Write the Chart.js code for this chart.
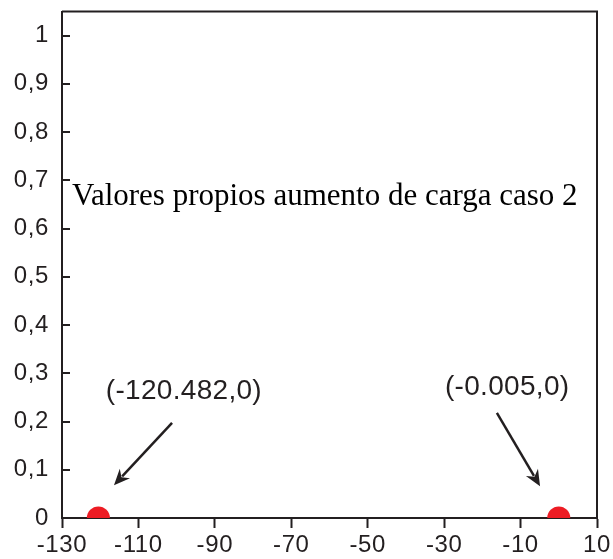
<!DOCTYPE html>
<html>
<head>
<meta charset="utf-8">
<script src="https://cdn.jsdelivr.net/npm/chart.js@4/dist/chart.umd.min.js"></script>
<style>
  body { margin: 0; background: #fff; }
  #wrap { width: 613px; height: 559px; }
</style>
</head>
<body>
<div id="wrap"><canvas id="chartEig" width="613" height="559"></canvas></div>
<script>
/* =========================
   DATA
========================= */
const eigReal = [-120.482, -0.005];
const eigImag = [0, 0];

const xTicks = [-130, -110, -90, -70, -50, -30, -10, 10];
const yTicks = [0, 0.1, 0.2, 0.3, 0.4, 0.5, 0.6, 0.7, 0.8, 0.9, 1];

const titleText = "Valores propios aumento de carga caso 2";
const labelTexts = ["(-120.482,0)", "(-0.005,0)"];
// anotaciones en unidades de datos: etiqueta [x, y], flecha [x0, y0, x1, y1]
const labelAt = [[-98.1, 0.263], [-13.5, 0.27]];
const arrowAt = [[-101.2, 0.197, -116.4, 0.068], [-16.2, 0.218, -4.9, 0.066]];
const titleAt = [-127.4, 0.649];

/* =========================
   PLUGIN: marco, ticks y anotaciones
========================= */
const decoPlugin = {
  id: "deco",
  beforeDraw(chart) {
    chart.ctx.letterSpacing = "0.6px";
  },
  afterDraw(chart) {
    const ctx = chart.ctx;
    const a = chart.chartArea;
    const xs = chart.scales.x;
    const ys = chart.scales.y;
    ctx.save();
    ctx.letterSpacing = "0px";

    // marco superior y derecho
    ctx.strokeStyle = "#231f20";
    ctx.lineWidth = 2;
    ctx.beginPath();
    ctx.moveTo(a.left, a.top);
    ctx.lineTo(a.right, a.top);
    ctx.lineTo(a.right, a.bottom);
    ctx.stroke();

    // ticks del eje y hacia dentro
    yTicks.forEach(v => {
      const py = Math.round(ys.getPixelForValue(v));
      ctx.beginPath();
      ctx.moveTo(a.left, py);
      ctx.lineTo(a.left + 8, py);
      ctx.stroke();
    });

    // titulo dentro del grafico
    ctx.fillStyle = "#000";
    ctx.font = "31px 'Liberation Serif', 'Times New Roman', serif";
    ctx.textAlign = "left";
    ctx.textBaseline = "alphabetic";
    ctx.fillText(titleText, xs.getPixelForValue(titleAt[0]), ys.getPixelForValue(titleAt[1]));

    // etiquetas de los puntos
    ctx.fillStyle = "#231f20";
    ctx.font = "28px 'Liberation Sans', Arial, sans-serif";
    ctx.letterSpacing = "0.3px";
    ctx.textAlign = "center";
    ctx.textBaseline = "middle";
    labelTexts.forEach((t, i) => {
      ctx.fillText(t, xs.getPixelForValue(labelAt[i][0]), ys.getPixelForValue(labelAt[i][1]));
    });

    // flechas
    ctx.strokeStyle = "#231f20";
    ctx.lineWidth = 2.5;
    arrowAt.forEach(ar => {
      const x0 = xs.getPixelForValue(ar[0]), y0 = ys.getPixelForValue(ar[1]);
      const x1 = xs.getPixelForValue(ar[2]), y1 = ys.getPixelForValue(ar[3]);
      const ang = Math.atan2(y1 - y0, x1 - x0);
      const len = 16, wid = 7;
      const bx = x1 - len * Math.cos(ang), by = y1 - len * Math.sin(ang);
      ctx.beginPath();
      ctx.moveTo(x0, y0);
      ctx.lineTo(bx + 4 * Math.cos(ang), by + 4 * Math.sin(ang));
      ctx.stroke();
      ctx.beginPath();
      ctx.moveTo(x1, y1);
      ctx.lineTo(bx - wid * Math.sin(ang), by + wid * Math.cos(ang));
      ctx.lineTo(x1 - (len - 5) * Math.cos(ang), y1 - (len - 5) * Math.sin(ang));
      ctx.lineTo(bx + wid * Math.sin(ang), by - wid * Math.cos(ang));
      ctx.closePath();
      ctx.fillStyle = "#231f20";
      ctx.fill();
    });
    ctx.restore();
  }
};

/* =========================
   GRAFICO
========================= */
const tickFont = { family: "'Liberation Sans', Arial, sans-serif", size: 24 };

new Chart(document.getElementById("chartEig"), {
  type: "scatter",
  data: {
    datasets: [{
      label: "Valores propios",
      data: eigReal.map((x, i) => ({ x: x, y: eigImag[i] })),
      backgroundColor: "#ed1c24",
      borderWidth: 0,
      pointRadius: 11.5,
      pointHoverRadius: 11.5,
      clip: 0
    }]
  },
  options: {
    responsive: false,
    animation: false,
    devicePixelRatio: 1,
    layout: { padding: { top: 11, right: 16, left: 0, bottom: 0 } },
    plugins: {
      legend: { display: false },
      tooltip: { enabled: false }
    },
    scales: {
      x: {
        type: "linear",
        min: -130,
        max: 10,
        afterBuildTicks: s => { s.ticks = xTicks.map(v => ({ value: v })); },
        afterFit: s => { s.height = 41; s.paddingLeft = 0; s.paddingRight = 0; },
        ticks: {
          font: tickFont,
          color: "#231f20",
          padding: 3,
          maxRotation: 0,
          autoSkip: false,
          callback: v => String(v)
        },
        grid: {
          drawOnChartArea: false,
          drawTicks: true,
          tickLength: 10,
          tickWidth: 2,
          tickColor: "#231f20"
        },
        border: { color: "#231f20", width: 2 }
      },
      y: {
        type: "linear",
        min: 0,
        max: 1.05,
        afterBuildTicks: s => { s.ticks = yTicks.map(v => ({ value: v })); },
        afterFit: s => { s.width = 62; s.paddingTop = 0; s.paddingBottom = 0; },
        ticks: {
          font: tickFont,
          color: "#231f20",
          padding: 13,
          autoSkip: false,
          callback: v => String(Math.round(v * 10) / 10).replace(".", ",")
        },
        grid: {
          drawOnChartArea: false,
          drawTicks: false
        },
        border: { color: "#231f20", width: 2 }
      }
    }
  },
  plugins: [decoPlugin]
});
</script>
</body>
</html>
